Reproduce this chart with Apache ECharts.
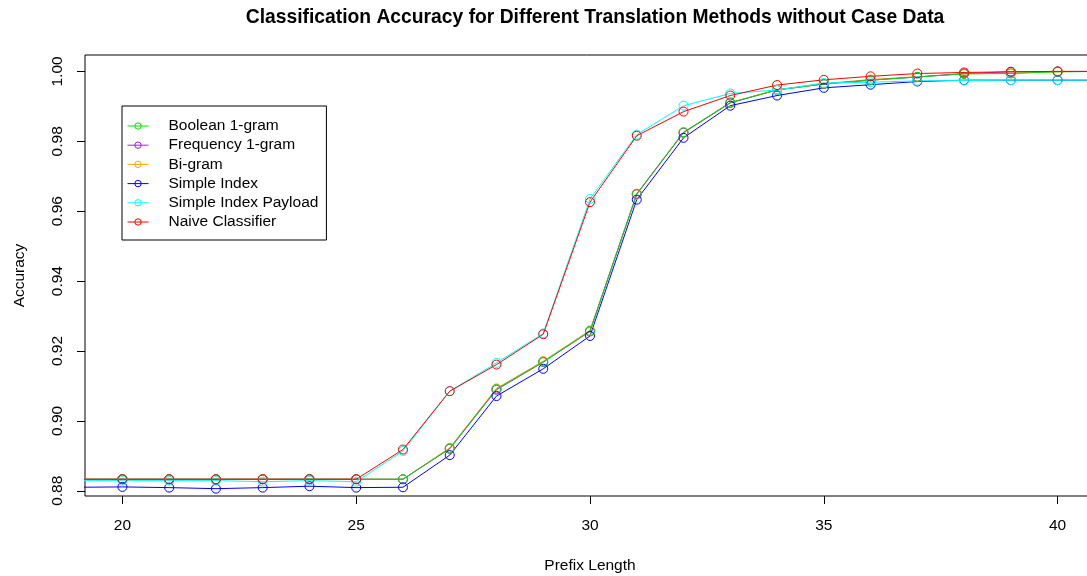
<!DOCTYPE html>
<html>
<head>
<meta charset="utf-8">
<script src="https://cdn.jsdelivr.net/npm/echarts@6/dist/echarts.min.js"></script>
<style>html,body{margin:0;padding:0;background:#fff;}#chart{width:1087px;height:576px;}</style>
</head>
<body>
<div id="chart"></div>
<script>
var prefixLength = [19,20,21,22,23,24,25,26,27,28,29,30,31,32,33,34,35,36,37,38,39,40,41];
var booleanGram = [0.8833,0.8833,0.8833,0.8833,0.8833,0.8833,0.8833,0.8833,0.8921,0.9091,0.9169,0.9257,0.9650,0.9826,0.9911,0.9947,0.9964,0.9975,0.9984,0.9993,0.9994,0.9999,1.0000];
var frequencyGram = [0.8833,0.8833,0.8833,0.8833,0.8833,0.8833,0.8833,0.8833,0.8920,0.9089,0.9168,0.9256,0.9649,0.9825,0.9910,0.9947,0.9964,0.9975,0.9984,0.9994,0.9999,1.0000,1.0000];
var biGram = [0.8833,0.8833,0.8833,0.8833,0.8833,0.8833,0.8833,0.8833,0.8923,0.9093,0.9171,0.9259,0.9648,0.9824,0.9910,0.9948,0.9965,0.9977,0.9985,0.9993,0.9995,0.9999,1.0000];
var simpleIndex = [0.8810,0.8811,0.8809,0.8806,0.8809,0.8813,0.8809,0.8810,0.8902,0.9071,0.9149,0.9243,0.9633,0.9810,0.9902,0.9931,0.9953,0.9962,0.9971,0.9975,0.9975,0.9975,0.9975];
var simpleIndexPayload = [0.8829,0.8829,0.8829,0.8829,0.8826,0.8829,0.8826,0.8914,0.9085,0.9166,0.9250,0.9635,0.9819,0.9902,0.9937,0.9947,0.9967,0.9969,0.9973,0.9974,0.9975,0.9975,0.9975];
var naiveClassifier = [0.8833,0.8833,0.8833,0.8833,0.8833,0.8833,0.8833,0.8918,0.9085,0.9161,0.9248,0.9626,0.9816,0.9885,0.9931,0.9961,0.9976,0.9986,0.9994,0.9997,0.9999,1.0000,1.0000];

var xTicks = [20,25,30,35,40];
var yTicks = [0.88,0.90,0.92,0.94,0.96,0.98,1.00];

var legendNames = ['Boolean 1-gram','Frequency 1-gram','Bi-gram','Simple Index','Simple Index Payload','Naive Classifier'];

function pairs(vals){ return prefixLength.map(function(x,i){ return [x, vals[i]]; }); }
function mk(name, vals, color){
  return {
    name: name, type: 'line', data: pairs(vals), clip: true,
    symbol: 'circle', symbolSize: 9, showSymbol: true,
    lineStyle: {color: color, width: 1},
    itemStyle: {color: 'rgba(255,255,255,0)', borderColor: color, borderWidth: 1},
    emphasis: {disabled: true}, animation: false
  };
}

var chart = echarts.init(document.getElementById('chart'), null, {renderer: 'canvas'});
chart.setOption({
  animation: false,
  backgroundColor: '#fff',
  title: {
    text: 'Classification Accuracy for Different Translation Methods without Case Data',
    left: 590, top: 3, textAlign: 'center',
    textStyle: {fontFamily: 'Liberation Sans', fontWeight: 'bold', fontSize: 19.3, color: '#000'}
  },
  grid: {left: 85, top: 55, width: 1010, height: 441, show: true, borderColor: '#000', borderWidth: 1,
    backgroundColor: 'transparent', containLabel: false, outerBoundsMode: 'none'},
  legend: {
    orient: 'vertical', left: 122, top: 106,
    data: legendNames,
    padding: [12, 8, 10, 5],
    itemWidth: 21, itemHeight: 8, itemGap: 3.2,
    borderColor: '#000', borderWidth: 1, borderRadius: 0,
    selectedMode: false,
    lineStyle: {width: 1},
    itemStyle: {borderWidth: 1},
    textStyle: {fontFamily: 'Liberation Sans', fontSize: 15.5, color: '#000', padding: [0,0,0,15]}
  },
  xAxis: {
    type: 'value', min: 19.2, max: 40.8,
    name: 'Prefix Length', nameLocation: 'middle', nameGap: 62,
    nameTextStyle: {fontFamily: 'Liberation Sans', fontSize: 15.5, color: '#000'},
    axisLine: {show: false},
    axisTick: {show: true, length: 8, lineStyle: {color: '#000'}, customValues: xTicks},
    axisLabel: {fontFamily: 'Liberation Sans', fontSize: 15.5, color: '#000', margin: 22, customValues: xTicks},
    splitLine: {show: false}
  },
  yAxis: {
    type: 'value', min: 0.8785, max: 1.0047,
    name: 'Accuracy', nameLocation: 'middle', nameGap: 57,
    nameTextStyle: {fontFamily: 'Liberation Sans', fontSize: 15.5, color: '#000'},
    axisLine: {show: false},
    axisTick: {show: true, length: 8, lineStyle: {color: '#000'}, customValues: yTicks},
    axisLabel: {fontFamily: 'Liberation Sans', fontSize: 15.5, color: '#000', margin: 19, rotate: 90,
      customValues: yTicks, formatter: function(v){ return v.toFixed(2); }},
    splitLine: {show: false}
  },
  series: [
    mk('Bi-gram', biGram, '#FFA500'),
    mk('Frequency 1-gram', frequencyGram, '#A020F0'),
    mk('Boolean 1-gram', booleanGram, '#00E000'),
    mk('Simple Index', simpleIndex, '#0000FF'),
    mk('Simple Index Payload', simpleIndexPayload, '#00FFFF'),
    mk('Naive Classifier', naiveClassifier, '#FF0000')
  ]
});
</script>
</body>
</html>
